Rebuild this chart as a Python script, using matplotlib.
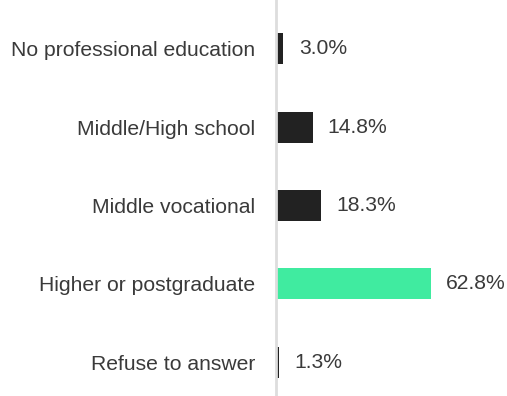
import numpy as np
import matplotlib
matplotlib.use('Agg')
import matplotlib.pyplot as plt

plt.rcParams['font.family'] = ['Liberation Sans', 'DejaVu Sans']

categories = ['No professional education', 'Middle/High school', 'Middle vocational',
              'Higher or postgraduate', 'Refuse to answer']
shares = [3.0, 14.8, 18.3, 62.8, 1.3]
highlight = 'Higher or postgraduate'

fig = plt.figure(figsize=(5.07, 3.96), dpi=100)
ax = fig.add_axes([276 / 507, 0.0, 1 - 276 / 507, 1.0])

y = np.arange(len(categories))
colors = ['#40eba0' if c == highlight else '#222222' for c in categories]
bars = ax.barh(y, shares, height=0.396, color=colors, left=0)

ax.set_xlim(0, 93.6)
ax.set_ylim(4.434, -0.626)

for spine in ['top', 'right', 'bottom']:
    ax.spines[spine].set_visible(False)
ax.spines['left'].set_color('#dddddd')
ax.spines['left'].set_linewidth(2)
ax.set_xticks([])
ax.set_yticks(y)
ax.set_yticklabels(categories, fontsize=15.2, color='#3a3a3a')
ax.tick_params(axis='y', length=0, pad=15)

for rect, v in zip(bars, shares):
    ax.annotate('{:.1f}%'.format(v),
                xy=(rect.get_width(), rect.get_y() + rect.get_height() / 2),
                xytext=(11, 0), textcoords='offset points',
                ha='left', va='center', fontsize=15.2, color='#3a3a3a')

fig.savefig('out.png', dpi=100)
